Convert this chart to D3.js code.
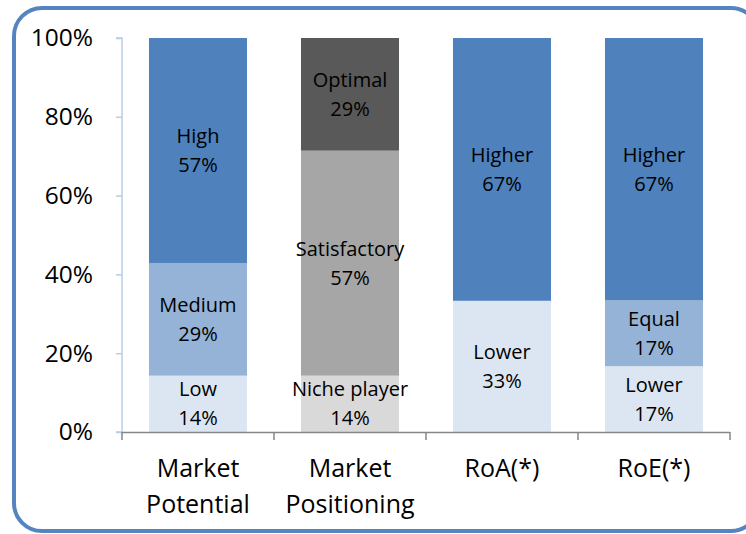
<!DOCTYPE html>
<html><head><meta charset="utf-8">
<script src="https://cdn.jsdelivr.net/npm/d3@7"></script>
<style>body{margin:0;background:#fff}svg{display:block;font-family:"Open Sans","Noto Sans",sans-serif}</style>
</head><body><svg id="c" width="746" height="534"></svg>
<script>
const categories = ["Market\nPotential", "Market\nPositioning", "RoA(*)", "RoE(*)"];
const segLabels = [
  ["Low", "Medium", "High"],
  ["Niche player", "Satisfactory", "Optimal"],
  ["Lower", "Higher"],
  ["Lower", "Equal", "Higher"]
];
const segValues = [
  [14.3, 28.6, 57.1],
  [14.3, 57.1, 28.6],
  [33.3, 66.7],
  [16.7, 16.7, 66.6]
];
const segColors = [
  ["#DCE6F2", "#95B3D7", "#4F81BD"],
  ["#D9D9D9", "#A6A6A6", "#595959"],
  ["#DCE6F2", "#4F81BD"],
  ["#DCE6F2", "#95B3D7", "#4F81BD"]
];
const yTicks = [0, 20, 40, 60, 80, 100];

const svg = d3.select("#c");
svg.append("rect").attr("x", 14).attr("y", 8).attr("width", 745).attr("height", 523)
  .attr("rx", 28).attr("fill", "#fff").attr("stroke", "#5585C0").attr("stroke-width", 4);

const x = d3.scaleBand().domain(categories).range([122, 730]).paddingInner(0.355).paddingOuter(0.1775);
const xb = d3.scaleBand().domain(categories).range([122, 730]);
const y = d3.scaleLinear().domain([0, 100]).range([432, 38]);

// bars
categories.forEach((c, i) => {
  let cum = 0;
  const g = svg.append("g");
  segValues[i].forEach((v, j) => {
    const y0 = cum, y1 = cum + v; cum = y1;
    g.append("rect").attr("x", x(c)).attr("width", x.bandwidth())
      .attr("y", y(y1)).attr("height", y(y0) - y(y1)).attr("fill", segColors[i][j]);
    const cy = (y(y0) + y(y1)) / 2;
    const t = g.append("text").attr("text-anchor", "middle").attr("font-size", 20).attr("fill", "#000");
    t.append("tspan").attr("x", x(c) + x.bandwidth() / 2).attr("y", cy - 7.5).text(segLabels[i][j]);
    t.append("tspan").attr("x", x(c) + x.bandwidth() / 2).attr("y", cy + 21.5).text(Math.round(v) + "%");
  });
});

// y axis
const ya = svg.append("g").attr("transform", "translate(122,0)")
  .call(d3.axisLeft(y).tickValues(yTicks).tickFormat(d => d + "%").tickSize(6).tickPadding(23));
ya.select(".domain").attr("stroke", "#B9CDE5").attr("stroke-width", 1.5).attr("d", "M-6,38H0V432H-6");
ya.selectAll(".tick line").attr("stroke", "#B9CDE5").attr("stroke-width", 1.5);
ya.selectAll(".tick text").attr("font-size", 24.5).attr("fill", "#000").attr("font-family", "'Open Sans','Noto Sans',sans-serif");

// x axis
const xa = svg.append("g").attr("transform", "translate(0,432)");
xa.append("line").attr("x1", 122).attr("x2", 730).attr("y1", 0.5).attr("y2", 0.5).attr("stroke", "#868686").attr("stroke-width", 1.5);
const bounds = categories.map(c => xb(c)).concat([730]);
xa.selectAll("line.t").data(bounds).join("line").attr("class", "t")
  .attr("x1", d => d).attr("x2", d => d).attr("y1", 0).attr("y2", 8).attr("stroke", "#868686").attr("stroke-width", 1.5);
categories.forEach(c => {
  const lines = c.split("\n");
  const t = xa.append("text").attr("text-anchor", "middle").attr("font-size", 25).attr("fill", "#000");
  lines.forEach((l, k) => t.append("tspan").attr("x", xb(c) + xb.bandwidth() / 2).attr("y", 45 + k * 36).text(l));
});
</script></body></html>
